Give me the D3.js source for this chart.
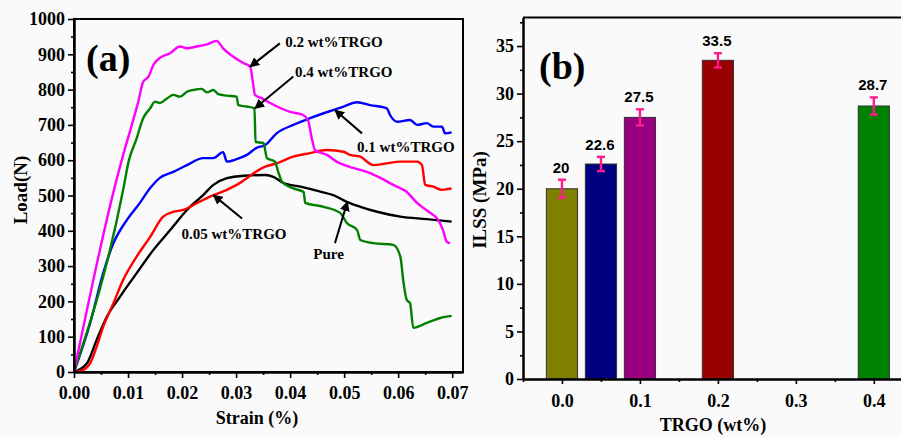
<!DOCTYPE html>
<html>
<head>
<meta charset="utf-8">
<script src="https://cdn.jsdelivr.net/npm/d3@7"></script>
<style>
  body { margin: 0; background: #fafafa; }
  svg { display: block; }
  .serif { font-family: "Liberation Serif", "DejaVu Serif", serif; font-weight: bold; }
  .sans { font-family: "Liberation Sans", Arial, sans-serif; font-weight: bold; }
</style>
</head>
<body>
<svg id="chart" width="901" height="437"></svg>
<script>
// ---- panel (a): load vs strain curves, [strain, load]
const pure = [[0,0],[0.0024,25],[0.0042,91],[0.0061,157],[0.0085,213],[0.0116,280],[0.0147,346],[0.0178,402],[0.0209,459],[0.0239,501],[0.0258,530],[0.0283,549],[0.0314,556],[0.0354,558],[0.0369,553],[0.0388,535],[0.0419,525],[0.0456,511],[0.048,501],[0.0505,482],[0.053,468],[0.0561,454],[0.0604,440],[0.0653,433],[0.0699,426]];
const trgo005 = [[0,0],[0.0017,6],[0.003,25],[0.0042,72],[0.0054,128],[0.0073,195],[0.0091,261],[0.0116,327],[0.0141,383],[0.0165,440],[0.0184,454],[0.0202,459],[0.0227,478],[0.0252,497],[0.0283,516],[0.0301,530],[0.0354,582],[0.0375,591],[0.0406,610],[0.0437,620],[0.0468,629],[0.0499,624],[0.0511,615],[0.053,610],[0.0542,596],[0.0554,586],[0.0579,591],[0.0604,596],[0.0635,596],[0.0644,586],[0.065,530],[0.0665,525],[0.0681,516],[0.0699,520]];
const trgo01 = [[0,0],[0.003,139],[0.0054,280],[0.0073,365],[0.0098,431],[0.0122,479],[0.0141,521],[0.0159,550],[0.0184,567],[0.0209,586],[0.0239,606],[0.0258,606],[0.0276,623],[0.0283,596],[0.0301,603],[0.032,615],[0.0338,635],[0.0354,643],[0.0375,676],[0.0406,700],[0.0437,719],[0.0462,733],[0.048,742],[0.0499,752],[0.0524,764],[0.0548,756],[0.0579,747],[0.0585,728],[0.0598,709],[0.0622,714],[0.0635,700],[0.0653,705],[0.0665,695],[0.0681,695],[0.0687,676],[0.0699,679]];
const trgo02 = [[0,0],[0.0074,516],[0.0091,615],[0.0107,700],[0.0119,766],[0.0128,822],[0.0138,837],[0.0147,870],[0.0159,890],[0.0178,903],[0.0196,922],[0.0209,917],[0.0227,922],[0.0246,928],[0.0264,938],[0.0276,917],[0.0295,893],[0.0314,875],[0.0326,865],[0.0331,822],[0.0335,785],[0.0348,775],[0.0363,762],[0.04,737],[0.0424,728],[0.0433,714],[0.044,663],[0.0446,629],[0.0468,615],[0.0486,596],[0.0517,578],[0.0542,567],[0.0567,550],[0.0591,530],[0.0616,510],[0.0635,479],[0.0659,451],[0.0674,431],[0.0683,402],[0.069,369],[0.0696,365]];
const trgo04 = [[0,0],[0.0091,516],[0.0101,596],[0.0116,662],[0.0128,719],[0.0141,747],[0.015,766],[0.0159,762],[0.0172,775],[0.0184,785],[0.0196,780],[0.0209,794],[0.0221,799],[0.0236,802],[0.0246,792],[0.0258,799],[0.0267,787],[0.0283,783],[0.0301,780],[0.0304,756],[0.032,752],[0.0334,747],[0.0336,652],[0.0351,648],[0.0357,606],[0.0372,596],[0.0378,567],[0.0385,539],[0.0406,520],[0.0425,510],[0.0428,479],[0.0462,468],[0.0493,450],[0.0505,422],[0.0524,402],[0.053,374],[0.0554,365],[0.0591,360],[0.0604,327],[0.061,252],[0.0616,204],[0.0622,195],[0.0628,125],[0.0653,139],[0.0678,153],[0.0699,159]];

const curves = [
  {data: pure, color: "#000000"},
  {data: trgo005, color: "#ff0000"},
  {data: trgo01, color: "#0000ff"},
  {data: trgo04, color: "#008000"},
  {data: trgo02, color: "#ff00ff"}
];

// labels with arrow: text anchor, arrow tail, arrow head (data units)
const notes = [
  {text: "0.2 wt%TRGO", tx: 0.0391, ty: 921, from: [0.0381, 931], to: [0.0326, 865]},
  {text: "0.4 wt%TRGO", tx: 0.0409, ty: 836, from: [0.0406, 837], to: [0.0335, 747]},
  {text: "0.1 wt%TRGO", tx: 0.0524, ty: 623, from: [0.0533, 676], to: [0.0483, 742]},
  {text: "0.05 wt%TRGO", tx: 0.0199, ty: 377, from: [0.0311, 435], to: [0.0258, 501]},
  {text: "Pure", tx: 0.0443, ty: 320, from: [0.0483, 365], to: [0.0506, 482]}
];

// ---- panel (b): ILSS bars
const trgoLoad = [0, 0.05, 0.1, 0.2, 0.4];
const ilss = [20, 22.6, 27.5, 33.5, 28.7];
const ilssErr = [0.95, 0.75, 0.85, 0.75, 0.9];
const barColors = ["#808000", "#000080", "#990080", "#990000", "#008000"];

const svg = d3.select("#chart");

// ================= (a)
const xA = d3.scaleLinear().domain([0, 0.072]).range([74, 463]);
const yA = d3.scaleLinear().domain([0, 1000]).range([372, 19]);

const gA = svg.append("g");

gA.append("rect")
  .attr("x", xA(0)).attr("y", yA(1000))
  .attr("width", xA(0.072) - xA(0)).attr("height", yA(0) - yA(1000))
  .attr("fill", "#fafafa").attr("stroke", "#000").attr("stroke-width", 2);

const line = d3.line().x(d => xA(d[0])).y(d => yA(d[1])).curve(d3.curveMonotoneX);
gA.selectAll("path.curve").data(curves).enter().append("path")
  .attr("class", "curve")
  .attr("d", d => line(d.data))
  .attr("fill", "none")
  .attr("stroke", d => d.color)
  .attr("stroke-width", 2.4)
  .attr("stroke-linejoin", "round");

function styleAxis(g) {
  g.select(".domain").attr("stroke-width", 2);
  g.selectAll(".tick line").attr("stroke-width", 1.6);
  g.selectAll(".tick text").attr("class", "serif").attr("font-size", 18).attr("fill", "#000");
}

gA.append("g")
  .attr("transform", `translate(0,${yA(0)})`)
  .call(d3.axisBottom(xA).tickValues(d3.range(0, 0.0701, 0.01)).tickFormat(d3.format(".2f")).tickSize(6).tickSizeOuter(0).tickPadding(8))
  .call(styleAxis);
gA.append("g")
  .attr("transform", `translate(0,${yA(0)})`)
  .call(d3.axisBottom(xA).tickValues(d3.range(0.005, 0.07, 0.01)).tickFormat("").tickSize(3).tickSizeOuter(0))
  .call(styleAxis);
gA.append("g")
  .attr("transform", `translate(${xA(0)},0)`)
  .call(d3.axisLeft(yA).tickValues(d3.range(0, 1001, 100)).tickFormat(d3.format("d")).tickSize(6).tickSizeOuter(0).tickPadding(3))
  .call(styleAxis);
gA.append("g")
  .attr("transform", `translate(${xA(0)},0)`)
  .call(d3.axisLeft(yA).tickValues(d3.range(50, 1000, 100)).tickFormat("").tickSize(3).tickSizeOuter(0))
  .call(styleAxis);

svg.append("defs").append("marker")
  .attr("id", "head").attr("viewBox", "0 0 10 10")
  .attr("refX", 9).attr("refY", 5)
  .attr("markerWidth", 5).attr("markerHeight", 5)
  .attr("orient", "auto")
  .append("path").attr("d", "M0,0 L10,5 L0,10 Z").attr("fill", "#000");

gA.selectAll("line.arrow").data(notes).enter().append("line")
  .attr("class", "arrow")
  .attr("x1", d => xA(d.from[0])).attr("y1", d => yA(d.from[1]))
  .attr("x2", d => xA(d.to[0])).attr("y2", d => yA(d.to[1]))
  .attr("stroke", "#000").attr("stroke-width", 2)
  .attr("marker-end", "url(#head)");

gA.selectAll("text.note").data(notes).enter().append("text")
  .attr("class", "serif")
  .attr("x", d => xA(d.tx)).attr("y", d => yA(d.ty))
  .attr("font-size", 15)
  .text(d => d.text);

gA.append("text").attr("class", "serif")
  .attr("x", 86).attr("y", 71).attr("font-size", 38).text("(a)");

gA.append("text").attr("class", "serif")
  .attr("x", 257).attr("y", 424).attr("text-anchor", "middle").attr("font-size", 18)
  .text("Strain (%)");
gA.append("text").attr("class", "serif")
  .attr("transform", "translate(27,190) rotate(-90)")
  .attr("text-anchor", "middle").attr("font-size", 19)
  .text("Load(N)");

// ================= (b)
const xB = d3.scaleLinear().domain([-0.05, 0.44]).range([523, 905]);
const yB = d3.scaleLinear().domain([0, 38]).range([379, 17.5]);
const barW = xB(0.04) - xB(0);

const gB = svg.append("g");

gB.append("line")
  .attr("x1", xB(-0.05)).attr("x2", 901)
  .attr("y1", yB(38)).attr("y2", yB(38))
  .attr("stroke", "#000").attr("stroke-width", 2);

gB.selectAll("rect.bar").data(ilss).enter().append("rect")
  .attr("class", "bar")
  .attr("x", (d, i) => xB(trgoLoad[i]) - barW / 2)
  .attr("y", d => yB(d))
  .attr("width", barW)
  .attr("height", d => yB(0) - yB(d))
  .attr("fill", (d, i) => barColors[i])
  .attr("stroke", "#333").attr("stroke-width", 1);

const errG = gB.selectAll("g.err").data(ilss).enter().append("g")
  .attr("stroke", "#ff1a8c").attr("stroke-width", 2.4);
errG.append("line")
  .attr("x1", (d, i) => xB(trgoLoad[i])).attr("x2", (d, i) => xB(trgoLoad[i]))
  .attr("y1", (d, i) => yB(d - ilssErr[i])).attr("y2", (d, i) => yB(d + ilssErr[i]));
errG.append("line")
  .attr("x1", (d, i) => xB(trgoLoad[i]) - 4).attr("x2", (d, i) => xB(trgoLoad[i]) + 4)
  .attr("y1", (d, i) => yB(d + ilssErr[i])).attr("y2", (d, i) => yB(d + ilssErr[i]));
errG.append("line")
  .attr("x1", (d, i) => xB(trgoLoad[i]) - 4).attr("x2", (d, i) => xB(trgoLoad[i]) + 4)
  .attr("y1", (d, i) => yB(d - ilssErr[i])).attr("y2", (d, i) => yB(d - ilssErr[i]));

gB.selectAll("text.val").data(ilss).enter().append("text")
  .attr("class", "sans")
  .attr("x", (d, i) => xB(trgoLoad[i]) - 1)
  .attr("y", (d, i) => yB(d + ilssErr[i]) - 7)
  .attr("text-anchor", "middle").attr("font-size", 15)
  .text(d => d);

gB.append("g")
  .attr("transform", `translate(0,${yB(0)})`)
  .call(d3.axisBottom(xB).tickValues([0, 0.1, 0.2, 0.3, 0.4]).tickFormat(d3.format(".1f")).tickSize(5).tickSizeOuter(0).tickPadding(10))
  .call(styleAxis);
gB.append("g")
  .attr("transform", `translate(0,${yB(0)})`)
  .call(d3.axisBottom(xB).tickValues([-0.05, 0.05, 0.15, 0.25, 0.35]).tickFormat("").tickSize(3).tickSizeOuter(0))
  .call(styleAxis);
gB.append("g")
  .attr("transform", `translate(${xB(-0.05)},0)`)
  .call(d3.axisLeft(yB).tickValues(d3.range(0, 36, 5)).tickSize(6).tickSizeOuter(0).tickPadding(3))
  .call(styleAxis);
gB.append("g")
  .attr("transform", `translate(${xB(-0.05)},0)`)
  .call(d3.axisLeft(yB).tickValues(d3.range(2.5, 38, 5)).tickFormat("").tickSize(3).tickSizeOuter(0))
  .call(styleAxis);

gB.append("text").attr("class", "serif")
  .attr("x", 539).attr("y", 79).attr("font-size", 38).text("(b)");

gB.append("text").attr("class", "serif")
  .attr("x", 713).attr("y", 431).attr("text-anchor", "middle").attr("font-size", 18)
  .text("TRGO (wt%)");
gB.append("text").attr("class", "serif")
  .attr("transform", "translate(486,200) rotate(-90)")
  .attr("text-anchor", "middle").attr("font-size", 19)
  .text("ILSS (MPa)");
</script>
</body>
</html>
